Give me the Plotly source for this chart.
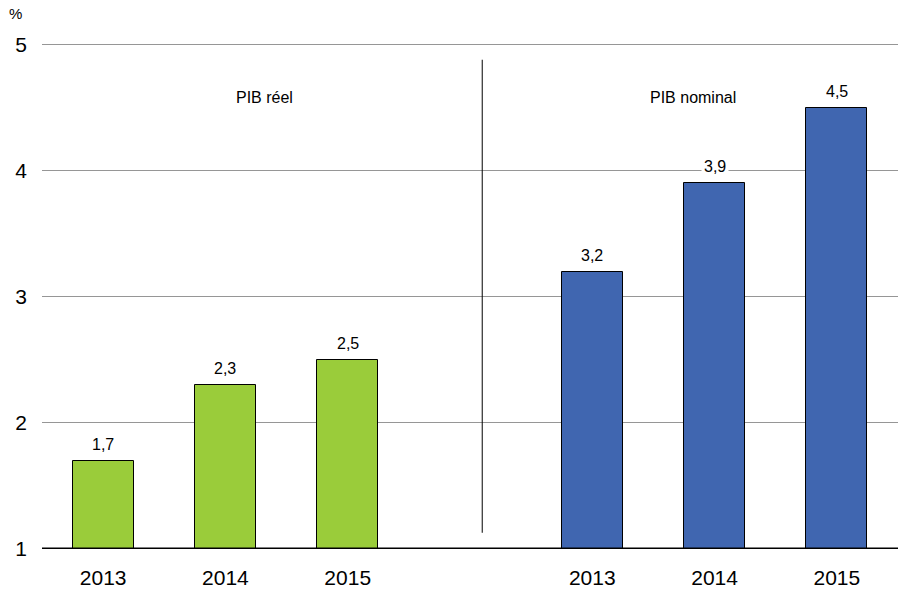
import plotly.graph_objects as go

years = ["2013", "2014", "2015"]
reel = [1.7, 2.3, 2.5]
nominal = [3.2, 3.9, 4.5]
reel_labels = ["1,7", "2,3", "2,5"]
nominal_labels = ["3,2", "3,9", "4,5"]
section_names = ["PIB réel", "PIB nominal"]

# slots 0-2 real, slot 3 empty, 4-6 nominal
x_reel = [0, 1, 2]
x_nom = [4, 5, 6]

green = "rgb(154,204,58)"
blue = "rgb(64,102,176)"

fig = go.Figure()
fig.add_trace(go.Bar(x=x_reel, y=[v - 1 for v in reel], base=1, width=0.5,
                     marker=dict(color=green, line=dict(color="black", width=1)),
                     hoverinfo="skip"))
fig.add_trace(go.Bar(x=x_nom, y=[v - 1 for v in nominal], base=1, width=0.5,
                     marker=dict(color=blue, line=dict(color="black", width=1)),
                     hoverinfo="skip"))

# value labels with white box so gridlines break behind them
for xs, vals, labs in [(x_reel, reel, reel_labels), (x_nom, nominal, nominal_labels)]:
    for x, v, t in zip(xs, vals, labs):
        fig.add_annotation(x=x, y=v, text=t, showarrow=False, yanchor="bottom",
                           yshift=5, bgcolor="white", borderpad=2,
                           font=dict(size=16, color="black"))

fig.add_annotation(x=1.32, y=4.58, text=section_names[0], showarrow=False,
                   font=dict(size=16, color="black"))
fig.add_annotation(x=4.82, y=4.58, text=section_names[1], showarrow=False,
                   font=dict(size=16, color="black"))

fig.add_annotation(xref="paper", yref="paper", x=-0.0315, y=1.056, text="%",
                   showarrow=False, xanchor="center", yanchor="middle",
                   font=dict(size=15, color="black"))

# separator between the two groups
fig.add_shape(type="line", xref="x", yref="paper", x0=3.1, x1=3.1,
              y0=0.032, y1=0.965, line=dict(color="black", width=1))

fig.update_layout(
    width=900, height=599,
    margin=dict(l=42, r=2, t=42, b=50),
    paper_bgcolor="white", plot_bgcolor="white",
    showlegend=False, bargap=0,
    font=dict(family="Liberation Sans, Arial, sans-serif", color="black"),
    xaxis=dict(range=[-0.5, 6.5], tickvals=x_reel + x_nom, ticktext=years + years,
               showgrid=False, zeroline=False, showline=False, ticks="",
               ticklabelstandoff=14, tickfont=dict(size=21)),
    yaxis=dict(range=[1, 5.02], tickvals=[1, 2, 3, 4, 5], showgrid=True,
               gridcolor="rgb(150,150,150)", gridwidth=1, zeroline=False,
               showline=False, ticks="", ticklabelstandoff=14,
               tickfont=dict(size=21)),
)
fig.add_shape(type="line", xref="paper", yref="y", x0=0, x1=1, y0=1, y1=1,
              line=dict(color="black", width=3))

fig.write_html("out.html", config={"displayModeBar": False},
               post_script="document.body.style.margin='0';")
